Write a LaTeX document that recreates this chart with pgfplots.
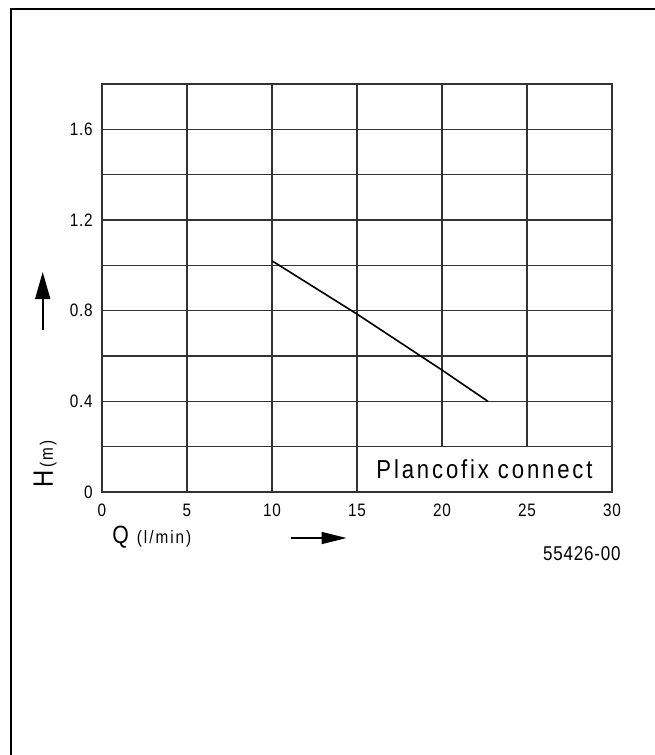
\documentclass[border=0pt]{standalone}
\usepackage{fontspec}
\setmainfont[FakeStretch=0.85]{Liberation Sans}
\newfontfamily\legfont[FakeStretch=0.85,LetterSpace=11]{Liberation Sans}
\newfontfamily\numfont[FakeStretch=0.85,LetterSpace=4]{Liberation Sans}
\usepackage{pgfplots}
\pgfplotsset{compat=1.18}
\usetikzlibrary{arrows.meta}
\begin{document}
\begin{tikzpicture}[x=1pt,y=1pt]
\useasboundingbox (0,0) rectangle (327,-377.5);
\draw[line width=1pt] (5.5,-385) -- (5.5,-4.5) -- (335,-4.5);
\begin{axis}[
  at={(51pt,-246pt)}, anchor=south west,
  scale only axis, width=255pt, height=204pt,
  xmin=0, xmax=30, ymin=0, ymax=1.8,
  xtick={0,5,10,15,20,25,30},
  xticklabels={0,5,10,15,20,25,30},
  ytick={0,0.2,0.4,0.6,0.8,1.0,1.2,1.4,1.6,1.8},
  yticklabels={0,,0.4,,0.8,,1.2,,1.6,},
  /pgf/number format/assume math mode=true,
  major tick length=0pt,
  grid=major,
  grid style={black!80, line width=0.8pt},
  axis line style={black!80, line width=0.8pt},
  tick label style={font=\numfont\fontsize{9}{10}\selectfont, inner sep=0pt},
  xticklabel style={yshift=-6pt},
  yticklabel style={xshift=-4.5pt},
  clip=false,
]
\addplot[black, line width=0.8pt] coordinates {(10,1.02) (15,0.785) (20,0.538) (22.7,0.40)};
\draw[fill=white, draw=black!80, line width=0.8pt] (axis cs:15,0) rectangle (axis cs:30,0.2);
\node[anchor=base, inner sep=0pt, font=\legfont\fontsize{13}{15}\selectfont] at (axis cs:22.5,0.06) {Plancofix connect};
\end{axis}
% axis labels
\node[rotate=90, anchor=base west, inner sep=0pt] at (26.5,-244) {\fontsize{14}{16}\selectfont H\hspace{1.5pt}\legfont\fontsize{9}{10}\selectfont(m)};
\draw[line width=0.8pt, -{Triangle[length=13.5pt,width=7.5pt]}] (21.35,-165) -- (21.35,-136);
\node[anchor=base west, inner sep=0pt] at (56,-271.5) {\fontsize{12.5}{14}\selectfont Q\hspace{4pt}\legfont\fontsize{9}{10}\selectfont(l/min)};
\draw[line width=0.8pt, -{Triangle[length=12.5pt,width=6pt]}] (145.3,-269) -- (173.3,-269);
\node[anchor=base east, inner sep=0pt] at (310.5,-280) {\numfont\fontsize{10}{12}\selectfont 55426-00};
\end{tikzpicture}
\end{document}
